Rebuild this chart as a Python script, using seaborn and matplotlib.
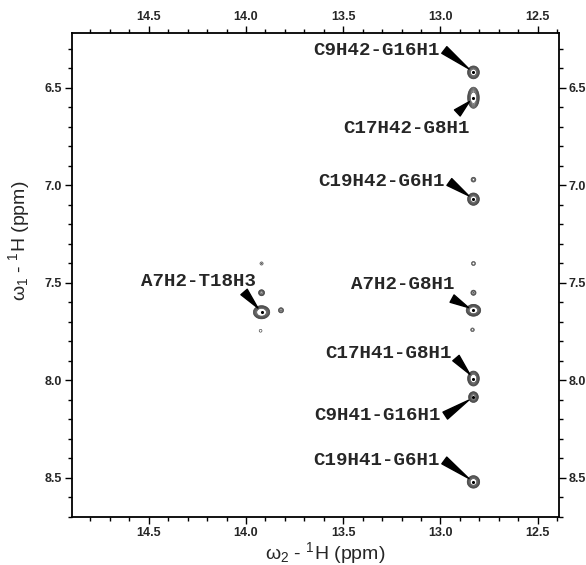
import numpy as np
import matplotlib
matplotlib.use("Agg")
import matplotlib.pyplot as plt
import seaborn as sns
from matplotlib.ticker import MultipleLocator

# peaks (w2 = x, w1 = y, ppm)
peak_names = ["C9H42-G16H1", "C17H42-G8H1", "C19H42-G6H1", "A7H2-G8H1",
              "C17H41-G8H1", "C9H41-G16H1", "C19H41-G6H1", "A7H2-T18H3"]
peak_w2 = [12.83, 12.83, 12.83, 12.83, 12.83, 12.83, 12.83, 13.92]
peak_w1 = [6.42, 6.55, 7.07, 7.64, 7.99, 8.085, 8.52, 7.65]
peak_amp = [1.0, 1.2, 1.0, 1.4, 1.3, 0.7, 1.1, 1.6]
peak_sw2 = [0.0115, 0.011, 0.0115, 0.0135, 0.011, 0.010, 0.012, 0.015]
peak_sw1 = [0.0125, 0.020, 0.012, 0.011, 0.014, 0.011, 0.012, 0.012]

# weak, unassigned cross peaks
weak_w2 = [12.83, 12.83, 12.83, 12.835, 13.92, 13.92, 13.82, 13.925]
weak_w1 = [6.97, 7.40, 7.55, 7.74, 7.40, 7.55, 7.64, 7.745]
weak_amp = [0.10, 0.07, 0.12, 0.06, 0.05, 0.20, 0.12, 0.045]

# label text anchor (right edge) and wedge start
label_pos = [(13.005, 6.31), (12.85, 6.71), (12.98, 6.98), (12.93, 7.51),
             (12.94, 7.86), (13.0, 8.18), (13.005, 8.41), (13.95, 7.49)]
wedge_start = [(12.98, 6.305), (12.913, 6.628), (12.954, 6.982), (12.94, 7.58),
               (12.92, 7.885), (12.975, 8.18), (12.98, 8.41), (14.01, 7.546)]

sns.set_theme(style="ticks")
plt.rcParams["font.family"] = ["Liberation Sans", "DejaVu Sans"]

# build spectrum from the peak list
x = np.arange(12.39, 14.90, 0.002)
y = np.arange(6.21, 8.71, 0.002)
X, Y = np.meshgrid(x, y)
Z = np.zeros_like(X)
for cx, cy, a, sx, sy in zip(peak_w2, peak_w1, peak_amp, peak_sw2, peak_sw1):
    Z += a * np.exp(-((X - cx) ** 2 / (2 * sx ** 2) + (Y - cy) ** 2 / (2 * sy ** 2)))
for cx, cy, a in zip(weak_w2, weak_w1, weak_amp):
    Z += a * np.exp(-((X - cx) ** 2 + (Y - cy) ** 2) / (2 * 0.008 ** 2))

fig = plt.figure(figsize=(5.86, 5.65), dpi=100)
ax = fig.add_axes([72 / 586, 48 / 565, 487 / 586, 484 / 565])

levels = 0.03 * 1.55 ** np.arange(7)
ax.contour(X, Y, Z, levels=levels, colors="#3a3a3a", linewidths=0.45)
ax.scatter(peak_w2, peak_w1, s=5, c="black", linewidths=0, zorder=3)

for name, (tx, ty), (sx, sy), px, py in zip(peak_names, label_pos, wedge_start, peak_w2, peak_w1):
    ax.text(tx, ty, name, ha="right", va="center", fontsize=13.8,
            fontweight="bold", family="Liberation Mono")
    ax.annotate("", xy=(px, py), xytext=(sx, sy),
                arrowprops=dict(arrowstyle="wedge,tail_width=0.6,shrink_factor=0.5",
                                color="black", shrinkA=0, shrinkB=4, mutation_scale=10))

ax.set_xlim(14.895, 12.39)
ax.set_ylim(8.70, 6.218)
ax.xaxis.set_major_locator(MultipleLocator(0.5))
ax.xaxis.set_minor_locator(MultipleLocator(0.1))
ax.yaxis.set_major_locator(MultipleLocator(0.5))
ax.yaxis.set_minor_locator(MultipleLocator(0.1))
ax.xaxis.set_major_formatter(lambda v, p: f"{v:.1f}")
ax.yaxis.set_major_formatter(lambda v, p: f"{v:.1f}")
ax.tick_params(which="both", direction="out", top=True, right=True,
               labeltop=True, labelright=True, width=1, color="black", pad=2)
ax.tick_params(which="major", length=5, labelsize=9)
ax.tick_params(which="minor", length=3)
for lab in ax.get_xticklabels() + ax.get_yticklabels():
    lab.set_fontweight("bold")
for s in ax.spines.values():
    s.set_linewidth(1.3)
    s.set_color("black")

ax.set_xlabel(r"$\mathregular{\omega_{2}}$ - $\mathregular{^{1}}$H (ppm)", fontsize=14)
ax.xaxis.set_label_coords(0.52, -0.047)
ax.set_ylabel(r"$\mathregular{\omega_{1}}$ - $\mathregular{^{1}}$H (ppm)", fontsize=14)
ax.yaxis.set_label_coords(-0.082, 0.57)

fig.savefig("out.png", dpi=100)
